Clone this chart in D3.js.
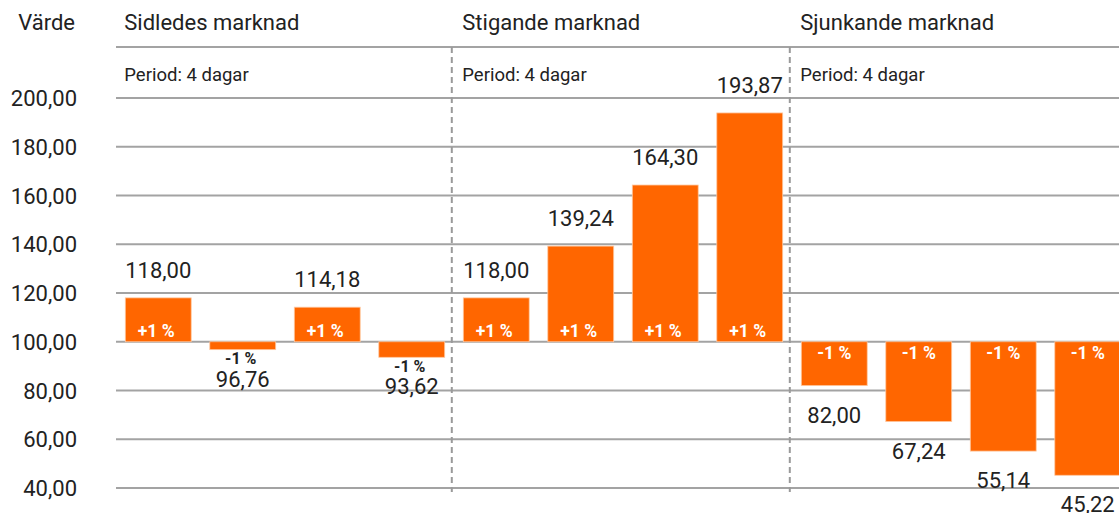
<!DOCTYPE html>
<html>
<head>
<meta charset="utf-8">
<script src="https://cdn.jsdelivr.net/npm/d3@7"></script>
<style>
  html, body { margin: 0; padding: 0; background: #fff; }
  svg { display: block; font-family: Roboto, "Noto Sans", sans-serif; }
</style>
</head>
<body>
<svg id="chart" width="1119" height="513"></svg>
<script>
// ---- Data ----
const groups = ["Sidledes marknad", "Stigande marknad", "Sjunkande marknad"];
const periodLabel = "Period: 4 dagar";
const yAxisTitle = "Värde";
const baseValue = 100;
const values = [
  [118.00, 96.76, 114.18, 93.62],
  [118.00, 139.24, 164.30, 193.87],
  [82.00, 67.24, 55.14, 45.22]
];
const changeLabels = [
  ["+1 %", "-1 %", "+1 %", "-1 %"],
  ["+1 %", "+1 %", "+1 %", "+1 %"],
  ["-1 %", "-1 %", "-1 %", "-1 %"]
];
const yTicks = [40, 60, 80, 100, 120, 140, 160, 180, 200];
const yDomain = [40, 200];

// ---- Build rows ----
const rows = [];
groups.forEach((g, gi) => {
  values[gi].forEach((v, i) => {
    rows.push({ id: gi + "-" + i, group: gi, idx: i, value: v, change: changeLabels[gi][i] });
  });
});

const fmt = v => v.toFixed(2).replace(".", ",");
const textColor = "#222222";
const gridColor = "#a3a3a3";
const orange = "#ff6600";
const textW = 400;

const svg = d3.select("#chart");
const W = 1119;

const x = d3.scaleBand()
  .domain(rows.map(d => d.id))
  .range([116, 1130])
  .paddingInner(0.22)
  .paddingOuter(0.11);

const y = d3.scaleLinear().domain(yDomain).range([488, 98]);

// Header line
svg.append("line")
  .attr("x1", 116).attr("x2", W)
  .attr("y1", 47).attr("y2", 47)
  .attr("stroke", gridColor).attr("stroke-width", 2);

// Gridlines
svg.append("g").selectAll("line").data(yTicks).join("line")
  .attr("x1", 116).attr("x2", W)
  .attr("y1", d => y(d)).attr("y2", d => y(d))
  .attr("stroke", gridColor).attr("stroke-width", 2);

// Y tick labels
svg.append("g").selectAll("text").data(yTicks).join("text")
  .attr("x", 77).attr("y", d => y(d) + 8)
  .attr("text-anchor", "end")
  .attr("font-size", 22).attr("font-weight", textW)
  .attr("fill", textColor)
  .text(d => fmt(d));

// Y axis title
svg.append("text")
  .attr("x", 75).attr("y", 30)
  .attr("text-anchor", "end")
  .attr("font-size", 22).attr("font-weight", textW)
  .attr("fill", textColor)
  .text(yAxisTitle);

// Group separators (dashed) and headings
groups.forEach((g, gi) => {
  const firstX = x(gi + "-0");
  if (gi > 0) {
    svg.append("line")
      .attr("x1", firstX - 11.5).attr("x2", firstX - 11.5)
      .attr("y1", 47).attr("y2", 492)
      .attr("stroke", "#9a9a9a").attr("stroke-width", 2)
      .attr("stroke-dasharray", "6,4");
  }
  svg.append("text")
    .attr("x", firstX - 1).attr("y", 30)
    .attr("font-size", 22).attr("font-weight", textW)
    .attr("fill", textColor)
    .text(g);
  svg.append("text")
    .attr("x", firstX - 1).attr("y", 81)
    .attr("font-size", 18.5).attr("font-weight", textW)
    .attr("fill", textColor)
    .text(periodLabel);
});

// Bars
svg.append("g").selectAll("rect").data(rows).join("rect")
  .attr("x", d => x(d.id))
  .attr("width", x.bandwidth())
  .attr("y", d => Math.min(y(d.value), y(baseValue)))
  .attr("height", d => Math.abs(y(d.value) - y(baseValue)))
  .attr("fill", orange)
  .attr("stroke", "#ffc8a0")
  .attr("stroke-width", 0.8);

// Labels
const lg = svg.append("g");
rows.forEach(d => {
  const cx = x(d.id) + x.bandwidth() / 2;
  const up = d.value >= baseValue;
  if (up) {
    lg.append("text")
      .attr("x", cx).attr("y", y(d.value) - 20)
      .attr("text-anchor", "middle").attr("font-size", 22).attr("font-weight", textW)
      .attr("fill", textColor).text(fmt(d.value));
    lg.append("text")
      .attr("x", cx - 2).attr("y", y(baseValue) - 5)
      .attr("text-anchor", "middle").attr("font-size", 17.5).attr("font-weight", "bold")
      .attr("fill", "#fff").text(d.change);
  } else {
    const barH = y(d.value) - y(baseValue);
    const inside = barH > 30;
    lg.append("text")
      .attr("x", cx).attr("y", y(d.value) + 37)
      .attr("text-anchor", "middle").attr("font-size", 22).attr("font-weight", textW)
      .attr("fill", textColor).text(fmt(d.value));
    if (inside) {
      lg.append("text")
        .attr("x", cx).attr("y", y(baseValue) + 17)
        .attr("text-anchor", "middle").attr("font-size", 17.5).attr("font-weight", "bold")
        .attr("fill", "#fff").text(d.change);
    } else {
      lg.append("text")
        .attr("x", cx - 2).attr("y", y(d.value) + 14.5)
        .attr("text-anchor", "middle").attr("font-size", 16).attr("font-weight", "bold")
        .attr("fill", textColor).text(d.change);
    }
  }
});
</script>
</body>
</html>
